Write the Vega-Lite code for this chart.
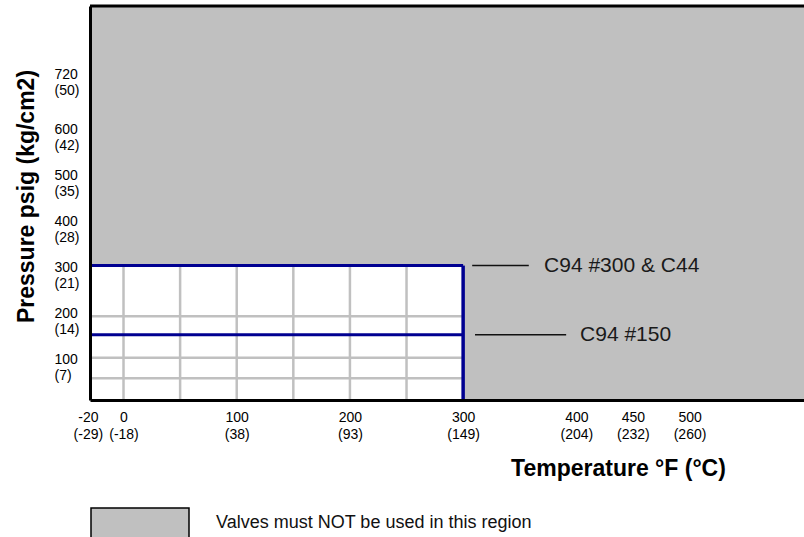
{
  "$schema": "https://vega.github.io/schema/vega-lite/v6.json",
  "width": 714,
  "height": 394,
  "autosize": {"type": "none"},
  "padding": {"left": 90, "top": 6, "right": 0, "bottom": 137},
  "background": "white",
  "config": {"font": "Liberation Sans", "view": {"stroke": null}},
  "datasets": {
    "region": [{"tmin": -29.6, "tmax": 601.1, "pmin": 8, "pmax": 864, "region": "Valves must NOT be used in this region"}],
    "allowed": [{"tmin": -29.6, "tmax": 300, "pmin": 8, "pmax": 300}],
    "vgrid": [{"t": 0}, {"t": 50}, {"t": 100}, {"t": 150}, {"t": 200}, {"t": 250}],
    "hgrid": [{"p": 190}, {"p": 100}, {"p": 55}],
    "limits": [
      {"rating": "C94 #300 & C44", "p": 300, "tmin": -29.6, "tmax": 300, "lx1": 308, "lx2": 358, "tx": 371.5},
      {"rating": "C94 #150", "p": 150, "tmin": -29.6, "tmax": 300, "lx1": 310.5, "lx2": 391, "tx": 403.3}
    ],
    "tlimit": [{"t": 300, "pmin": 8, "pmax": 300}]
  },
  "layer": [
    {
      "data": {"name": "region"},
      "mark": {"type": "rect"},
      "encoding": {
        "x": {"field": "tmin", "type": "quantitative", "scale": {"domain": [-29.6, 601.1], "nice": false, "zero": false},
          "axis": {
            "orient": "bottom", "zindex": 2,
            "values": [-20, 0, 100, 200, 300, 400, 450, 500],
            "labelExpr": "datum.value == -20 ? ['-20','(-29)'] : datum.value == 0 ? ['0','(-18)'] : datum.value == 100 ? ['100','(38)'] : datum.value == 200 ? ['200','(93)'] : datum.value == 300 ? ['300','(149)'] : datum.value == 400 ? ['400','(204)'] : datum.value == 450 ? ['450','(232)'] : ['500','(260)']",
            "grid": false, "ticks": false, "tickSize": 0,
            "domainColor": "black", "domainWidth": 3,
            "labelAlign": "center", "labelBaseline": "top", "labelPadding": 10,
            "labelOffset": {"condition": {"test": "datum.value == -20", "value": -13}, "value": 0},
            "labelFontSize": 14, "labelLineHeight": 17, "labelColor": "#000000", "labelOverlap": false, "labelFlush": false,
            "title": "Temperature °F (°C)", "titleFontSize": 23, "titleFontWeight": "bold", "titleColor": "black",
            "titleX": 528, "titleY": 68, "titleAlign": "center", "titleBaseline": "middle"
          }},
        "x2": {"field": "tmax"},
        "y": {"field": "pmin", "type": "quantitative", "scale": {"domain": [8, 864], "nice": false, "zero": false},
          "axis": {
            "orient": "left", "zindex": 2,
            "values": [100, 200, 300, 400, 500, 600, 720],
            "labelExpr": "datum.value == 720 ? ['720','(50)'] : datum.value == 600 ? ['600','(42)'] : datum.value == 500 ? ['500','(35)'] : datum.value == 400 ? ['400','(28)'] : datum.value == 300 ? ['300','(21)'] : datum.value == 200 ? ['200','(14)'] : ['100','(7)']",
            "grid": false, "ticks": false, "tickSize": 0,
            "domainColor": "black", "domainWidth": 3,
            "labelAlign": "left", "labelBaseline": "middle", "labelPadding": 36, "labelOffset": 2,
            "labelFontSize": 14, "labelLineHeight": 16, "labelColor": "#000000", "labelOverlap": false, "labelFlush": false,
            "title": "Pressure psig (kg/cm2)", "titleFontSize": 23, "titleFontWeight": "bold", "titleColor": "black",
            "titleX": -64, "titleY": 190, "titleAlign": "center", "titleBaseline": "middle", "titleAngle": -90
          }},
        "y2": {"field": "pmax"},
        "color": {"field": "region", "type": "nominal", "scale": {"range": ["#c0c0c0"]},
          "legend": {
            "orient": "none", "legendX": 0, "legendY": 467, "title": null, "padding": 0,
            "symbolType": "M-1,-0.306H1V2H-1Z", "symbolSize": 9604,
            "symbolStrokeColor": "black", "symbolStrokeWidth": 1.5, "symbolFillColor": "#c0c0c0", "symbolOpacity": 1,
            "labelFontSize": 18, "labelColor": "#111111", "labelOffset": 26, "labelLimit": 0
          }}
      }
    },
    {
      "data": {"name": "allowed"},
      "mark": {"type": "rect", "color": "white"},
      "encoding": {
        "x": {"field": "tmin", "type": "quantitative"},
        "x2": {"field": "tmax"},
        "y": {"field": "pmin", "type": "quantitative"},
        "y2": {"field": "pmax"}
      }
    },
    {
      "data": {"name": "vgrid"},
      "mark": {"type": "rule", "color": "#c0c0c0", "strokeWidth": 2.5},
      "encoding": {
        "x": {"field": "t", "type": "quantitative"},
        "y": {"datum": 8, "type": "quantitative"},
        "y2": {"datum": 300}
      }
    },
    {
      "data": {"name": "hgrid"},
      "mark": {"type": "rule", "color": "#c0c0c0", "strokeWidth": 2.5},
      "encoding": {
        "y": {"field": "p", "type": "quantitative"},
        "x": {"datum": -29.6, "type": "quantitative"},
        "x2": {"datum": 300}
      }
    },
    {
      "data": {"name": "limits"},
      "mark": {"type": "rule", "color": "#000091", "strokeWidth": 3},
      "encoding": {
        "y": {"field": "p", "type": "quantitative"},
        "x": {"field": "tmin", "type": "quantitative"},
        "x2": {"field": "tmax"}
      }
    },
    {
      "data": {"name": "tlimit"},
      "mark": {"type": "rule", "color": "#000091", "strokeWidth": 3.5},
      "encoding": {
        "x": {"field": "t", "type": "quantitative"},
        "y": {"field": "pmin", "type": "quantitative"},
        "y2": {"field": "pmax"}
      }
    },
    {
      "data": {"name": "region"},
      "mark": {"type": "rule", "color": "black", "strokeWidth": 3},
      "encoding": {
        "y": {"field": "pmax", "type": "quantitative"},
        "x": {"field": "tmin", "type": "quantitative"},
        "x2": {"field": "tmax"}
      }
    },
    {
      "data": {"name": "limits"},
      "mark": {"type": "rule", "color": "#111111", "strokeWidth": 1.5},
      "encoding": {
        "y": {"field": "p", "type": "quantitative"},
        "x": {"field": "lx1", "type": "quantitative"},
        "x2": {"field": "lx2"}
      }
    },
    {
      "data": {"name": "limits"},
      "mark": {"type": "text", "align": "left", "baseline": "middle", "fontSize": 21, "color": "#1a1a1a"},
      "encoding": {
        "y": {"field": "p", "type": "quantitative"},
        "x": {"field": "tx", "type": "quantitative"},
        "text": {"field": "rating"}
      }
    }
  ]
}
